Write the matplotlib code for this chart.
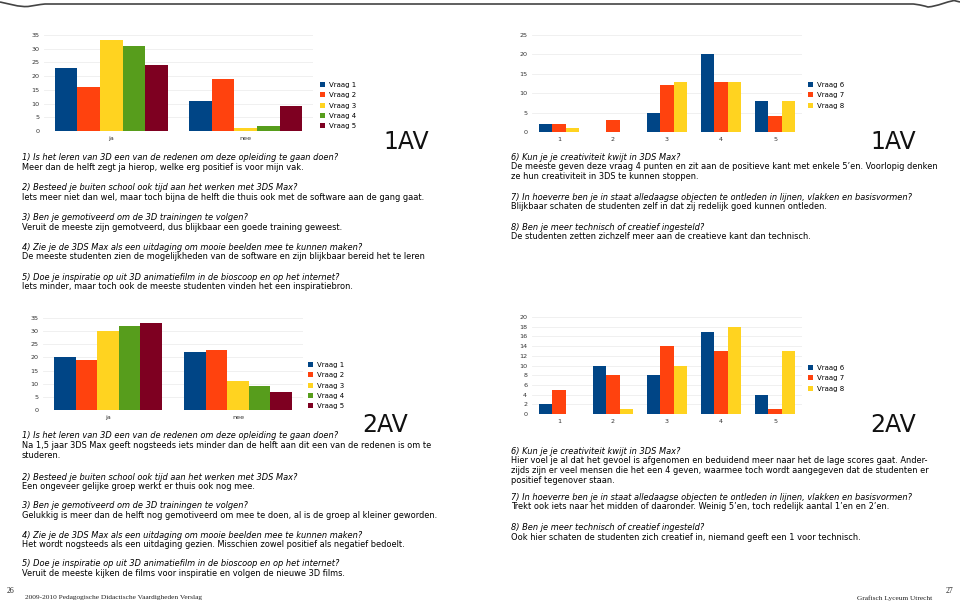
import matplotlib
matplotlib.use("Agg")
import matplotlib.pyplot as plt
from matplotlib.path import Path
from matplotlib.patches import PathPatch, Patch

W, H = 960, 603

# LibreOffice default chart colours
COLORS = ["#004586", "#ff420e", "#ffd320", "#579d1c", "#7e0021"]

# ---------------------------------------------------------------- data
JANEE = ["ja", "nee"]
SCORES = ["1", "2", "3", "4", "5"]
LABELS_15 = ["Vraag 1", "Vraag 2", "Vraag 3", "Vraag 4", "Vraag 5"]
LABELS_68 = ["Vraag 6", "Vraag 7", "Vraag 8"]

# 1AV, vraag 1-5: aantal ja / nee
AV1_JA = [23, 16, 33, 31, 24]
AV1_NEE = [11, 19, 1, 2, 9]
# 1AV, vraag 6-8: aantal per score 1..5
AV1_V6 = [2, 0, 5, 20, 8]
AV1_V7 = [2, 3, 12, 13, 4]
AV1_V8 = [1, 0, 13, 13, 8]

# 2AV
AV2_JA = [20, 19, 30, 32, 33]
AV2_NEE = [22, 23, 11, 9, 7]
AV2_V6 = [2, 10, 8, 17, 4]
AV2_V7 = [5, 8, 14, 13, 1]
AV2_V8 = [0, 1, 10, 18, 13]

TEXT_1AV_A = [
    ("1) Is het leren van 3D een van de redenen om deze opleiding te gaan doen?",
     ["Meer dan de helft zegt ja hierop, welke erg positief is voor mijn vak."]),
    ("2) Besteed je buiten school ook tijd aan het werken met 3DS Max?",
     ["Iets meer niet dan wel, maar toch bijna de helft die thuis ook met de software aan de gang gaat."]),
    ("3) Ben je gemotiveerd om de 3D trainingen te volgen?",
     ["Veruit de meeste zijn gemotveerd, dus blijkbaar een goede training geweest."]),
    ("4) Zie je de 3DS Max als een uitdaging om mooie beelden mee te kunnen maken?",
     ["De meeste studenten zien de mogelijkheden van de software en zijn blijkbaar bereid het te leren"]),
    ("5) Doe je inspiratie op uit 3D animatiefilm in de bioscoop en op het internet?",
     ["Iets minder, maar toch ook de meeste studenten vinden het een inspiratiebron."]),
]
TEXT_1AV_B = [
    ("6) Kun je je creativiteit kwijt in 3DS Max?",
     ["De meeste geven deze vraag 4 punten en zit aan de positieve kant met enkele 5\u2019en. Voorlopig denken",
      "ze hun creativiteit in 3DS te kunnen stoppen."]),
    ("7) In hoeverre ben je in staat alledaagse objecten te ontleden in lijnen, vlakken en basisvormen?",
     ["Blijkbaar schaten de studenten zelf in dat zij redelijk goed kunnen ontleden."]),
    ("8) Ben je meer technisch of creatief ingesteld?",
     ["De studenten zetten zichzelf meer aan de creatieve kant dan technisch."]),
]
TEXT_2AV_A = [
    ("1) Is het leren van 3D een van de redenen om deze opleiding te gaan doen?",
     ["Na 1,5 jaar 3DS Max geeft nogsteeds iets minder dan de helft aan dit een van de redenen is om te",
      "studeren."]),
    ("2) Besteed je buiten school ook tijd aan het werken met 3DS Max?",
     ["Een ongeveer gelijke groep werkt er thuis ook nog mee."]),
    ("3) Ben je gemotiveerd om de 3D trainingen te volgen?",
     ["Gelukkig is meer dan de helft nog gemotiveerd om mee te doen, al is de groep al kleiner geworden."]),
    ("4) Zie je de 3DS Max als een uitdaging om mooie beelden mee te kunnen maken?",
     ["Het wordt nogsteeds als een uitdaging gezien. Misschien zowel positief als negatief bedoelt."]),
    ("5) Doe je inspiratie op uit 3D animatiefilm in de bioscoop en op het internet?",
     ["Veruit de meeste kijken de films voor inspiratie en volgen de nieuwe 3D films."]),
]
TEXT_2AV_B = [
    ("6) Kun je je creativiteit kwijt in 3DS Max?",
     ["Hier voel je al dat het gevoel is afgenomen en beduidend meer naar het de lage scores gaat. Ander-",
      "zijds zijn er veel mensen die het een 4 geven, waarmee toch wordt aangegeven dat de studenten er",
      "positief tegenover staan."]),
    ("7) In hoeverre ben je in staat alledaagse objecten te ontleden in lijnen, vlakken en basisvormen?",
     ["Trekt ook iets naar het midden of daaronder. Weinig 5\u2019en, toch redelijk aantal 1\u2019en en 2\u2019en."]),
    ("8) Ben je meer technisch of creatief ingesteld?",
     ["Ook hier schaten de studenten zich creatief in, niemand geeft een 1 voor technisch."]),
]

TXT_SIZE = 5.95
LINE_H = 9.9


def fx(x):
    return x / W


def fy(y):
    return 1 - y / H


def bar_chart(fig, box, cats, series, labels, ymax, ystep, group_w, legend_xy):
    left, top, right, bottom = box
    ax = fig.add_axes([fx(left), fy(bottom), fx(right - left), (bottom - top) / H])
    n = len(series)
    bw = group_w / n
    for i, vals in enumerate(series):
        xs = [c - group_w / 2 + bw * (i + 0.5) for c in range(len(cats))]
        ax.bar(xs, vals, width=bw, color=COLORS[i], zorder=3, linewidth=0)
    ax.set_xlim(-0.5, len(cats) - 0.5)
    ax.set_ylim(0, ymax)
    ax.set_yticks(range(0, ymax + 1, ystep))
    ax.set_xticks(range(len(cats)))
    ax.set_xticklabels(cats)
    ax.tick_params(length=0, labelsize=4.6, labelcolor="#333333", pad=3.5)
    ax.yaxis.grid(True, color="#eeeeee", linewidth=0.6, zorder=0)
    for s in ax.spines.values():
        s.set_visible(False)
    handles = [Patch(facecolor=COLORS[i], label=labels[i]) for i in range(n)]
    fig.legend(handles=handles, loc="upper left", frameon=False,
               bbox_to_anchor=(fx(legend_xy[0]), fy(legend_xy[1])),
               fontsize=5.0, handlelength=0.75, handleheight=0.75,
               handletextpad=0.5, labelspacing=0.62, borderpad=0, borderaxespad=0)
    return ax


def text_block(page, x, starts, paragraphs):
    for y0, (question, answer) in zip(starts, paragraphs):
        page.text(x, y0, question, fontsize=TXT_SIZE, style="italic", va="center",
                  family="DejaVu Sans", color="#000000")
        for k, line in enumerate(answer):
            page.text(x, y0 + LINE_H * (k + 1), line, fontsize=TXT_SIZE, va="center",
                      family="DejaVu Sans", color="#000000")


fig = plt.figure(figsize=(W / 100, H / 100), dpi=100)

page = fig.add_axes([0, 0, 1, 1], zorder=0)
page.set_xlim(0, W)
page.set_ylim(H, 0)
page.axis("off")

# page header line with curled ends
verts = [(0, 2), (10, 4), (18, 7), (28, 6.5), (36, 5), (45, 4), (45, 4),
         (913, 4), (913, 4), (920, 4.5), (928, 7), (938, 6), (946, 2), (954, 0.5), (960, 2)]
codes = [Path.MOVETO, Path.CURVE4, Path.CURVE4, Path.CURVE4, Path.CURVE4, Path.CURVE4, Path.CURVE4,
         Path.LINETO, Path.CURVE4, Path.CURVE4, Path.CURVE4, Path.CURVE4, Path.CURVE4, Path.CURVE4,
         Path.LINETO]
page.add_patch(PathPatch(Path(verts, codes), facecolor="none", edgecolor="#444444", linewidth=1.2))

# 1AV charts
bar_chart(fig, (44, 35, 313, 131), JANEE,
          [[AV1_JA[i], AV1_NEE[i]] for i in range(5)], LABELS_15, 35, 5, 0.84, (320, 82))
bar_chart(fig, (532, 35, 802, 132), SCORES,
          [AV1_V6, AV1_V7, AV1_V8], LABELS_68, 25, 5, 0.75, (808, 82))
# 2AV charts
bar_chart(fig, (43, 318, 303, 410), JANEE,
          [[AV2_JA[i], AV2_NEE[i]] for i in range(5)], LABELS_15, 35, 5, 0.83, (308, 362))
bar_chart(fig, (532, 317, 802, 414), SCORES,
          [AV2_V6, AV2_V7, AV2_V8], LABELS_68, 20, 2, 0.75, (808, 365))

# class labels
for x, y, s in [(383, 142, "1AV"), (870, 142, "1AV"), (362, 425, "2AV"), (870, 425, "2AV")]:
    page.text(x, y, s, fontsize=17, va="center", ha="left", family="DejaVu Sans", color="#111111")

text_block(page, 22, [158, 188, 218, 247, 277], TEXT_1AV_A)
text_block(page, 511, [157, 197, 227], TEXT_1AV_B)
text_block(page, 22, [436, 477, 506, 535, 564], TEXT_2AV_A)
text_block(page, 511, [451, 497, 528], TEXT_2AV_B)

# footer
serif = dict(family="Liberation Serif", color="#222222")
page.text(7, 591, "26", fontsize=5.5, va="center", **serif)
page.text(25, 598, "2009-2010 Pedagogische Didactische Vaardigheden Verslag", fontsize=5.3, va="center", **serif)
page.text(932, 598, "Grafisch Lyceum Utrecht", fontsize=5.3, va="center", ha="right", **serif)
page.text(946, 591, "27", fontsize=5.5, va="center", **serif)

fig.savefig("out.png", dpi=100, facecolor="white")
